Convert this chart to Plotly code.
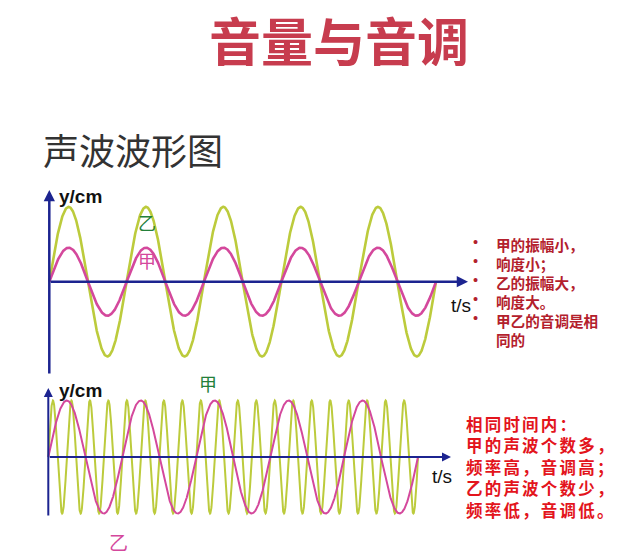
import numpy as np
import plotly.graph_objects as go

# ---------------- data ----------------
title_text = "音量与音调"
subtitle_text = "声波波形图"

top_labels = ["甲", "乙"]            # 甲: small amplitude, 乙: large amplitude
top_amplitude_cm = [1.0, 2.2]
top_cycles = [5, 5]

bottom_labels = ["甲", "乙"]         # 甲: high frequency, 乙: low frequency
bottom_amplitude_cm = [1.0, 1.0]
bottom_cycles = [20, 5]

duration_s = 1.0

top_notes = ["甲的振幅小，", "响度小；", "乙的振幅大，", "响度大。", "甲乙的音调是相", "同的"]
top_note_bullets = [True, True, True, True, True, False]
bottom_notes = ["相同时间内：", "甲的声波个数多，", "频率高，音调高；", "乙的声波个数少，", "频率低，音调低。"]

# ---------------- style ----------------
PAGE_W, PAGE_H = 619, 558
OFF = 8                      # default body margin of the html page
W, H = PAGE_W - OFF, PAGE_H - OFF
C_YG = "#bccb3c"
C_MG = "#d4489c"
C_AX = "#1c2490"
C_TITLE = "#c73c4e"
C_NOTE1 = "#b3202c"
C_NOTE2 = "#e3141c"
C_GREEN = "#23803a"
CJK = "Noto Sans CJK SC"
LAT = "Liberation Sans, Arial"


def px(x):
    return (x - OFF) / W


def py(y):
    return 1 - (y - OFF) / H


fig = go.Figure()

# ---- top panel mapping (page pixels) ----
T_X0, T_X1 = 49.3, 436.0        # t = 0 .. duration
T_Y0, T_PPU = 281.7, 34.0       # y = 0 line, pixels per cm
T_DOM_X, T_DOM_Y = (40, 480), (185, 380)
t_ppx = (T_X1 - T_X0) / duration_s

# ---- bottom panel mapping ----
B_X0, B_X1 = 48.3, 418.0
B_Y0, B_PPU = 457.0, 56.5
B_DOM_X, B_DOM_Y = (40, 460), (380, 525)
b_ppx = (B_X1 - B_X0) / duration_s

top_colors = {"甲": C_MG, "乙": C_YG}
bottom_colors = {"甲": C_YG, "乙": C_MG}

for name, amp, cyc in sorted(zip(top_labels, top_amplitude_cm, top_cycles), key=lambda r: r[0] == "甲"):
    t = np.linspace(0, duration_s, 1200)
    fig.add_trace(go.Scatter(x=t, y=amp * np.sin(2 * np.pi * cyc * t / duration_s), mode="lines",
                             line=dict(color=top_colors[name], width=2.6), xaxis="x", yaxis="y",
                             showlegend=False, hoverinfo="skip"))

for name, amp, cyc in sorted(zip(bottom_labels, bottom_amplitude_cm, bottom_cycles), key=lambda r: r[0] == "乙"):
    t = np.linspace(0, duration_s, 2400)
    fig.add_trace(go.Scatter(x=t, y=amp * np.sin(2 * np.pi * cyc * t / duration_s), mode="lines",
                             line=dict(color=bottom_colors[name], width=2.0), xaxis="x2", yaxis="y2",
                             showlegend=False, hoverinfo="skip"))

hidden = dict(showgrid=False, zeroline=False, showticklabels=False, ticks="", showline=False, fixedrange=True)

fig.update_layout(
    width=W, height=H, margin=dict(l=0, r=0, t=0, b=0),
    paper_bgcolor="white", plot_bgcolor="rgba(0,0,0,0)",
    xaxis=dict(domain=[px(T_DOM_X[0]), px(T_DOM_X[1])],
               range=[(T_DOM_X[0] - T_X0) / t_ppx, (T_DOM_X[1] - T_X0) / t_ppx], **hidden),
    yaxis=dict(domain=[py(T_DOM_Y[1]), py(T_DOM_Y[0])],
               range=[(T_Y0 - T_DOM_Y[1]) / T_PPU, (T_Y0 - T_DOM_Y[0]) / T_PPU], **hidden),
    xaxis2=dict(domain=[px(B_DOM_X[0]), px(B_DOM_X[1])],
                range=[(B_DOM_X[0] - B_X0) / b_ppx, (B_DOM_X[1] - B_X0) / b_ppx], anchor="y2", **hidden),
    yaxis2=dict(domain=[py(B_DOM_Y[1]), py(B_DOM_Y[0])],
                range=[(B_Y0 - B_DOM_Y[1]) / B_PPU, (B_Y0 - B_DOM_Y[0]) / B_PPU], anchor="x2", **hidden),
)

ann = []


def arrow(xr, yr, x, y, ax, ay, w):
    ann.append(dict(xref=xr, yref=yr, axref=xr, ayref=yr, x=x, y=y, ax=ax, ay=ay, text="",
                    showarrow=True, arrowhead=2, arrowsize=0.9, arrowwidth=w, arrowcolor=C_AX, standoff=0))


# top axes (arrows)
arrow("x", "y", (468 - T_X0) / t_ppx, 0, 0, 0, 2.5)
arrow("x", "y", 0, (T_Y0 - 190) / T_PPU, 0, (T_Y0 - 375) / T_PPU, 2.5)
# bottom axes
arrow("x2", "y2", (451 - B_X0) / b_ppx, 0, 0, 0, 2.0)
arrow("x2", "y2", 0, (B_Y0 - 388) / B_PPU, 0, (B_Y0 - 517) / B_PPU, 2.0)


def txt(text, x, y, size, color, family, xanchor="left", weight="normal", yanchor="middle", height=None,
        align="left"):
    d = dict(xref="paper", yref="paper", x=px(x), y=py(y), text=text, showarrow=False,
             xanchor=xanchor, yanchor=yanchor, align=align,
             font=dict(size=size, color=color, family=family, weight=weight))
    if height is not None:
        d["height"] = height
    ann.append(d)


txt(title_text, 339.5, 39, 52, C_TITLE, CJK, "center", "bold", height=54)
txt(subtitle_text, 41, 149, 36, "#333333", CJK)

# axis titles
txt("y/cm", 57, 196, 19, "#111111", LAT, weight="bold")
txt("t/s", 461, 305, 19, "#111111", LAT, "center")
txt("y/cm", 57, 390, 19, "#111111", LAT, weight="bold")
txt("t/s", 441.5, 476, 19, "#111111", LAT, "center")

# curve labels
txt(top_labels[1], 147, 222, 18, C_GREEN, CJK, "center")
txt(top_labels[0], 147, 260, 18, C_MG, CJK, "center")
txt(bottom_labels[0], 208, 383, 18, C_GREEN, CJK, "center")
txt(bottom_labels[1], 118, 541, 19, C_MG, CJK, "center")

# top notes (bulleted list, one text block)
NOTE1_SIZE = 14.6
line1 = 1.3 * NOTE1_SIZE
top_block = "<br>".join(top_notes)
bullet_block = "<br>".join("•" if b else " " for b in top_note_bullets)
first1 = 242
txt(top_block, 494, first1 - line1 / 2 - 1, NOTE1_SIZE, C_NOTE1, CJK, weight="bold", yanchor="top")
txt(bullet_block, 475, first1 - line1 / 2 - 1, NOTE1_SIZE, C_NOTE1, LAT, "center", yanchor="top",
    align="center")

# bottom notes (one text block, letter-spaced)
NOTE2_SIZE = 16.5
line2 = 1.3 * NOTE2_SIZE
bottom_block = "<br>".join('<span style="letter-spacing:2.2px">%s</span>' % s for s in bottom_notes)
first2 = 422
txt(bottom_block, 464, first2 - line2 / 2 - 1, NOTE2_SIZE, C_NOTE2, CJK, weight="bold", yanchor="top")

fig.update_layout(annotations=ann)
fig.write_html("out.html")
